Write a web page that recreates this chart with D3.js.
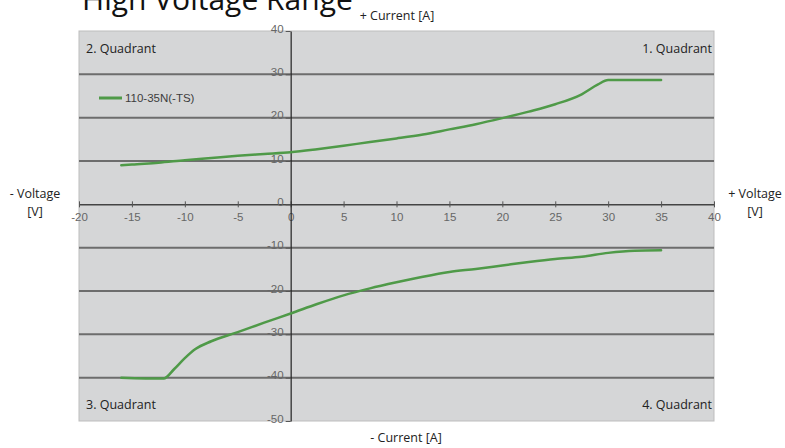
<!DOCTYPE html>
<html>
<head>
<meta charset="utf-8">
<script src="https://cdn.jsdelivr.net/npm/d3@7"></script>
<style>
  html, body { margin: 0; padding: 0; background: #ffffff; }
  svg { display: block; }
</style>
</head>
<body>
<svg id="chart" width="785" height="448"></svg>
<script>
// ---- data ----
const seriesName = "110-35N(-TS)";
const posVoltage = [-16, -15, -12.5, -10, -7.5, -5, -2.5, 0, 2.5, 5, 7.5, 10, 12.5, 15, 17.5, 20, 22.5, 25, 27.5, 29, 30, 35];
const posCurrent = [9.0, 9.2, 9.6, 10.2, 10.7, 11.2, 11.6, 12.0, 12.7, 13.5, 14.4, 15.2, 16.1, 17.3, 18.5, 19.9, 21.4, 23.1, 25.4, 27.6, 28.7, 28.7];
const negVoltage = [-16, -12, -11, -10, -9, -7.5, -5, -2.5, 0, 2.5, 5, 7.5, 10, 12.5, 15, 17.5, 20, 22.5, 25, 27.5, 30, 32.5, 35];
const negCurrent = [-40, -40.2, -38, -35.5, -33.4, -31.6, -29.5, -27.3, -25.2, -23, -21, -19.4, -18, -16.7, -15.6, -14.9, -14.1, -13.3, -12.6, -12.1, -11.2, -10.7, -10.6];
const xTicks = [-20, -15, -10, -5, 0, 5, 10, 15, 20, 25, 30, 35, 40];
const yTicks = [40, 30, 20, 10, 0, -10, -20, -30, -40, -50];
const quadrantLabels = ["1. Quadrant", "2. Quadrant", "3. Quadrant", "4. Quadrant"];
const titleText = "High Voltage Range";
const yPlusLabel = "+ Current [A]";
const yMinusLabel = "- Current [A]";
const xMinusLabel = ["- Voltage", "[V]"];
const xPlusLabel = ["+ Voltage", "[V]"];

// ---- layout ----
const svg = d3.select("#chart");
const plot = { left: 79, right: 714, top: 31, bottom: 421 };
const x = d3.scaleLinear().domain([-20, 40]).range([plot.left, plot.right]);
const y = d3.scaleLinear().domain([-50, 40]).range([plot.bottom, plot.top]);
const green = "#4f9a48";
const tickFont = "Liberation Sans, Arial, sans-serif";
const labelFont = "'Open Sans', 'Noto Sans', sans-serif";
const fmt = d => String(d);

// plot background
svg.append("rect")
  .attr("x", plot.left).attr("y", plot.top)
  .attr("width", plot.right - plot.left).attr("height", plot.bottom - plot.top)
  .attr("fill", "#d5d6d7").attr("stroke", "#bdbdbd").attr("stroke-width", 1);

// gridlines
svg.append("g").selectAll("line")
  .data(yTicks.filter(d => d !== 0 && d !== 40 && d !== -50))
  .join("line")
  .attr("x1", plot.left).attr("x2", plot.right)
  .attr("y1", d => y(d)).attr("y2", d => y(d))
  .attr("stroke", "#6d6d6d").attr("stroke-width", 2);

// x axis at y=0
const xAxis = svg.append("g")
  .attr("transform", `translate(0,${y(0)})`)
  .call(d3.axisBottom(x).tickValues(xTicks).tickSize(3).tickSizeOuter(0).tickFormat(fmt));
xAxis.select(".domain").attr("stroke", "#444").attr("stroke-width", 1.5);
xAxis.selectAll(".tick line").attr("y1", -3).attr("y2", 3).attr("stroke", "#555");
xAxis.selectAll(".tick text")
  .attr("y", 9).attr("dy", "0.71em")
  .attr("fill", "#666").attr("font-family", tickFont).attr("font-size", 11.5);

// y axis at x=0
const yAxis = svg.append("g")
  .attr("transform", `translate(${x(0)},0)`)
  .call(d3.axisLeft(y).tickValues(yTicks).tickSize(5).tickSizeOuter(0).tickFormat(fmt));
yAxis.select(".domain").attr("stroke", "#222").attr("stroke-width", 1.2);
yAxis.selectAll(".tick line").attr("stroke", "#555");
yAxis.selectAll(".tick text")
  .attr("x", -7).attr("dy", "0.1em")
  .attr("fill", "#666").attr("font-family", tickFont).attr("font-size", 11.5);

// series
const line = d3.line().x(d => x(d[0])).y(d => y(d[1])).curve(d3.curveMonotoneX);
const posData = posVoltage.map((v, i) => [v, posCurrent[i]]);
const negData = negVoltage.map((v, i) => [v, negCurrent[i]]);
[posData, negData].forEach(data => {
  svg.append("path").datum(data)
    .attr("d", line)
    .attr("fill", "none").attr("stroke", green).attr("stroke-width", 2.5)
    .attr("stroke-linejoin", "round").attr("stroke-linecap", "round");
});

// legend
const lg = svg.append("g");
lg.append("line").attr("x1", 99).attr("x2", 122).attr("y1", 98).attr("y2", 98)
  .attr("stroke", green).attr("stroke-width", 3);
lg.append("text").attr("x", 125).attr("y", 98).attr("dy", "0.35em")
  .attr("font-family", tickFont).attr("font-size", 11.5).attr("fill", "#3d3d3d")
  .text(seriesName);

// quadrant labels
const qText = (t, xx, yy, anchor) => svg.append("text")
  .attr("x", xx).attr("y", yy).attr("dy", "0.35em").attr("text-anchor", anchor)
  .attr("font-family", labelFont).attr("font-size", 12.5).attr("fill", "#222").text(t);
qText(quadrantLabels[0], plot.right - 2, 49, "end");
qText(quadrantLabels[1], plot.left + 7, 49, "start");
qText(quadrantLabels[2], plot.left + 7, 405, "start");
qText(quadrantLabels[3], plot.right - 2, 405, "end");

// axis titles
svg.append("text").attr("x", 397).attr("y", 20).attr("text-anchor", "middle")
  .attr("font-family", labelFont).attr("font-size", 12.5).attr("fill", "#222").text(yPlusLabel);
svg.append("text").attr("x", 406).attr("y", 442).attr("text-anchor", "middle")
  .attr("font-family", labelFont).attr("font-size", 12.5).attr("fill", "#222").text(yMinusLabel);
const sideLabel = (lines, cx) => {
  const t = svg.append("text").attr("text-anchor", "middle")
    .attr("font-family", labelFont).attr("font-size", 12.5).attr("fill", "#222");
  lines.forEach((s, i) => t.append("tspan").attr("x", cx).attr("y", 198 + i * 18).text(s));
};
sideLabel(xMinusLabel, 35);
sideLabel(xPlusLabel, 755);

// title (partly cut off at the top like the reference)
const title = svg.append("text").attr("x", 82).attr("y", 10)
  .attr("font-family", labelFont).attr("font-size", 26).attr("fill", "#111").text(titleText);
const w = title.node().getComputedTextLength();
title.attr("font-size", 26 * 271 / w);
</script>
</body>
</html>
